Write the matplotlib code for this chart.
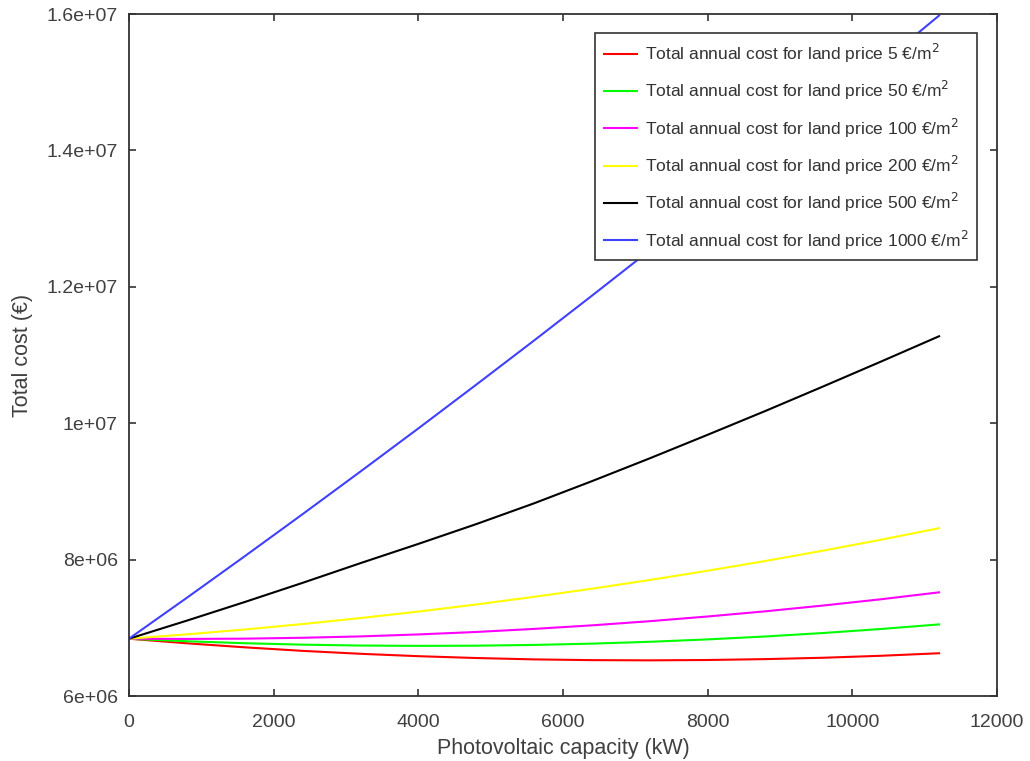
import numpy as np
import matplotlib
matplotlib.use('Agg')
import matplotlib.pyplot as plt
from matplotlib.ticker import FuncFormatter

# photovoltaic capacity (kW) and total annual cost (millions of euro) per land price
capacity = [0, 800, 1600, 2400, 3200, 4000, 4800, 5600, 6400, 7200, 8000, 8800, 9600, 10400, 11200]
land_prices = [5, 50, 100, 200, 500, 1000]
cost_5 = [6.840, 6.773, 6.714, 6.662, 6.619, 6.584, 6.557, 6.537, 6.526, 6.523, 6.528, 6.541, 6.561, 6.590, 6.627]
cost_50 = [6.840, 6.803, 6.774, 6.753, 6.740, 6.735, 6.738, 6.749, 6.768, 6.795, 6.830, 6.873, 6.924, 6.983, 7.050]
cost_100 = [6.840, 6.837, 6.841, 6.854, 6.874, 6.903, 6.939, 6.984, 7.036, 7.097, 7.166, 7.242, 7.327, 7.419, 7.520]
cost_200 = [6.840, 6.904, 6.975, 7.055, 7.143, 7.238, 7.342, 7.454, 7.573, 7.701, 7.837, 7.980, 8.132, 8.292, 8.460]
cost_500 = [6.840, 7.105, 7.378, 7.659, 7.948, 8.230, 8.520, 8.825, 9.150, 9.485, 9.830, 10.180, 10.540, 10.905, 11.275]
cost_1000 = [6.840, 7.440, 8.049, 8.666, 9.291, 9.923, 10.564, 11.212, 11.869, 12.534, 13.206, 13.887, 14.575, 15.273, 15.977]

costs = [cost_5, cost_50, cost_100, cost_200, cost_500, cost_1000]
colors = ['#ff0000', '#00ff00', '#ff00ff', '#ffff00', '#000000', '#4040ff']

plt.rcParams['font.family'] = ['Liberation Sans', 'DejaVu Sans']
textcol = '#404040'

fig = plt.figure(figsize=(10.3, 7.61), dpi=100)
ax = fig.add_axes([0.1252, 0.0854, 0.8427, 0.8962])

x = np.array(capacity)
for price, c, col in zip(land_prices, costs, colors):
	ax.plot(x, np.array(c) * 1e6, color=col, lw=1.5,
		label='Total annual cost for land price {} €/m$^2$'.format(price))

ax.set_xlim(0, 12000)
ax.set_ylim(6e6, 1.6e7)
ax.set_xticks(range(0, 12001, 2000))
ax.set_yticks([6e6, 8e6, 1e7, 1.2e7, 1.4e7, 1.6e7])
fmt = FuncFormatter(lambda v, pos: '%g' % v)
ax.xaxis.set_major_formatter(fmt)
ax.yaxis.set_major_formatter(fmt)
ax.tick_params(direction='in', top=True, right=True, length=5, width=1.2,
	colors='#333333', labelcolor=textcol, labelsize=14)
ax.tick_params(axis='x', pad=13)
ax.tick_params(axis='y', pad=8)
for s in ax.spines.values():
	s.set_color('#333333')
	s.set_linewidth(1.3)

ax.set_xlabel('Photovoltaic capacity (kW)', fontsize=15.5, color=textcol, labelpad=5)
ax.set_ylabel('Total cost (€)', fontsize=15.5, color=textcol, labelpad=10)

leg = ax.legend(loc='upper right', bbox_to_anchor=(0.977, 0.972), borderaxespad=0,
	fontsize=12.5, labelspacing=0.82, handlelength=1.9, handletextpad=0.45,
	fancybox=False, framealpha=1, borderpad=0.5)
leg.get_frame().set_edgecolor('#333333')
leg.get_frame().set_linewidth(1.2)
for t in leg.get_texts():
	t.set_color('#333333')

fig.savefig('out.png', dpi=100)
